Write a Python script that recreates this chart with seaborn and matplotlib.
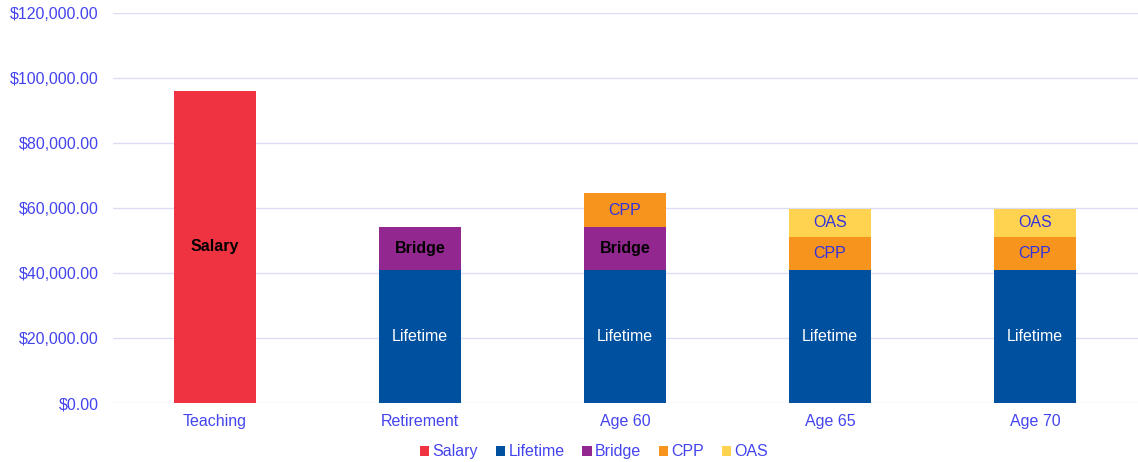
import matplotlib
matplotlib.use("Agg")
import matplotlib.pyplot as plt
import matplotlib.ticker as mticker
from matplotlib.patches import Patch
import numpy as np
import pandas as pd
import seaborn as sns

# valores
categories = ["Teaching", "Retirement", "Age 60", "Age 65", "Age 70"]
salary = [96000, 0, 0, 0, 0]
lifetime = [0, 40800, 40800, 40800, 40800]
bridge = [0, 13200, 13200, 0, 0]
cpp = [0, 0, 10500, 10300, 10300]
oas = [0, 0, 0, 8700, 8700]
series_names = ["Salary", "Lifetime", "Bridge", "CPP", "OAS"]
y_ticks = [0, 20000, 40000, 60000, 80000, 100000, 120000]

colors = {"Salary": "#EF3340", "Lifetime": "#0050A0", "Bridge": "#92278F",
          "CPP": "#F7941D", "OAS": "#FFD24F"}
label_style = {"Salary": ("black", "bold"), "Lifetime": ("white", "normal"),
               "Bridge": ("black", "bold"), "CPP": ("#3333DD", "normal"),
               "OAS": ("#3333DD", "normal")}
blue_text = "#4444EE"

sns.set_style("white")
plt.rcParams["font.family"] = ["Liberation Sans", "DejaVu Sans"]

series = {"Salary": salary, "Lifetime": lifetime, "Bridge": bridge, "CPP": cpp, "OAS": oas}
df = pd.DataFrame(series, index=categories)
cum = df.cumsum(axis=1)

fig = plt.figure(figsize=(11.38, 4.62), dpi=100)
ax = fig.add_axes([0.0989, 0.1277, 0.9007, 0.8442])

# desenha do topo para a base (barras empilhadas sobrepostas)
for name in reversed(series_names):
    d = pd.DataFrame({"cat": categories, "val": cum[name].values})
    sns.barplot(data=d, x="cat", y="val", order=categories, color=colors[name],
                width=0.4, saturation=1, ax=ax, zorder=3, linewidth=0)

# rotulos dentro dos segmentos
for i, cat in enumerate(categories):
    for name in series_names:
        v = df.loc[cat, name]
        if v <= 0:
            continue
        mid = cum.loc[cat, name] - v / 2
        c, w = label_style[name]
        ax.text(i, mid, name, ha="center", va="center", color=c,
                fontweight=w, fontsize=11.5, zorder=5)

ax.set_ylim(0, 120000)
ax.set_xlim(-0.5, 4.5)
ax.set_yticks(y_ticks)
ax.yaxis.set_major_formatter(mticker.FuncFormatter(lambda v, p: f"${v:,.2f}"))
ax.grid(axis="y", color="#DCDCF5", linewidth=1, zorder=0)
ax.set_axisbelow(True)
for s in ax.spines.values():
    s.set_visible(False)
ax.tick_params(axis="both", length=0, labelsize=11.5, labelcolor=blue_text)
ax.tick_params(axis="y", pad=10)
ax.tick_params(axis="x", pad=8)
ax.set_xlabel("")
ax.set_ylabel("")

handles = [Patch(facecolor=colors[n], edgecolor="none", label=n) for n in series_names]
leg = fig.legend(handles=handles, loc="center", bbox_to_anchor=(0.522, 0.022), ncol=5,
                 frameon=False, fontsize=11.5, handlelength=0.6, handleheight=0.6,
                 handletextpad=0.2, columnspacing=1.1)
for t in leg.get_texts():
    t.set_color(blue_text)

fig.savefig("out.png", dpi=100)
